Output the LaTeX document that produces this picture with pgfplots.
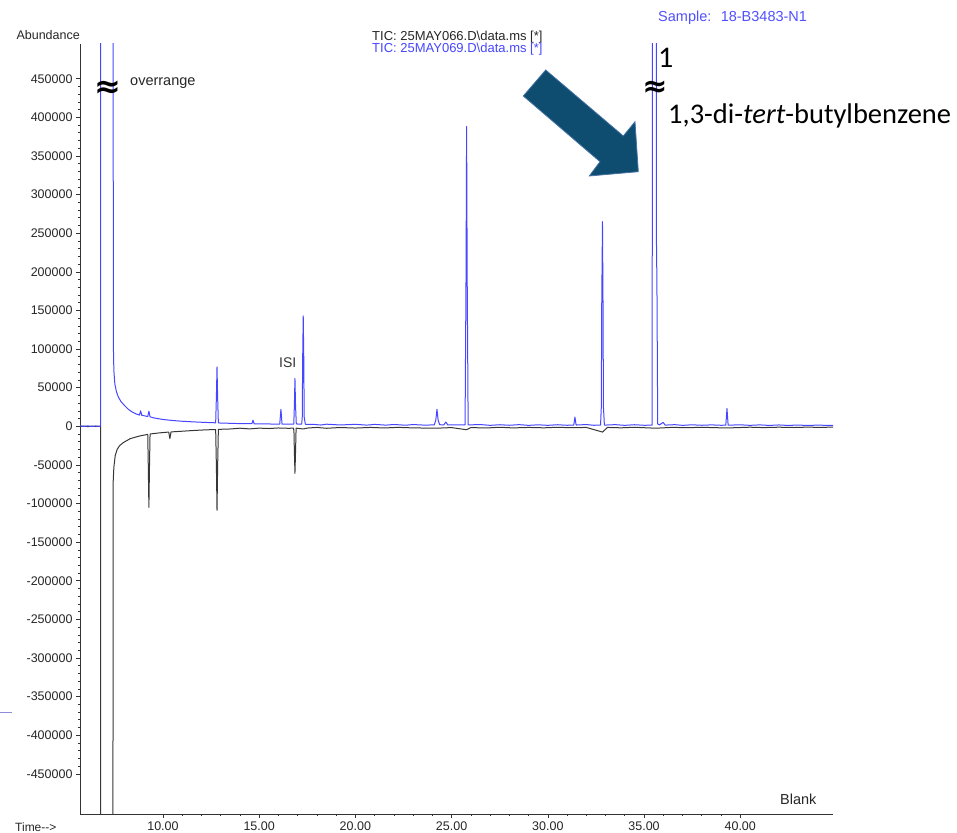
\documentclass[border=0pt]{standalone}
\usepackage{pgfplots}
\pgfplotsset{compat=1.18}
\usepackage{fontspec}
\setmainfont{Liberation Sans}
\newfontfamily\calibri{Carlito}
\newfontfamily\dejavu{DejaVu Sans}
\definecolor{blueTIC}{RGB}{70,70,255}
\definecolor{blackTIC}{RGB}{55,55,55}
\definecolor{arrowfill}{RGB}{14,76,112}
\definecolor{arrowedge}{RGB}{70,115,165}
\definecolor{labelblue}{RGB}{80,80,255}

\begin{document}
\begin{tikzpicture}
\begin{axis}[
  at={(0,0)}, anchor=south west,
  scale only axis, width=753pt, height=770pt,
  xmin=5.69, xmax=44.82, ymin=-502000, ymax=495000,
  axis x line*=bottom, axis y line*=left,
  axis line style={black!80, line width=0.8pt},
  tick align=outside,
  major tick length=4pt, minor tick length=2pt,
  tick style={black!80, line width=0.6pt},
  xtick={10,15,20,25,30,35,40}, minor x tick num=4,
  ytick={-450000,-400000,-350000,-300000,-250000,-200000,-150000,-100000,-50000,0,50000,100000,150000,200000,250000,300000,350000,400000,450000},
  minor y tick num=4,
  scaled ticks=false,
  xticklabel style={/pgf/number format/.cd, fixed, fixed zerofill, precision=2},
  yticklabel style={/pgf/number format/.cd, fixed, 1000 sep={}},
  /pgf/number format/assume math mode=true,
  ticklabel style={font=\fontsize{12.5}{14}\selectfont, text=black!85},
  clip=true,
]
\addplot[blackTIC, line width=1pt, line join=round] coordinates {
(5.70,-400)(5.9,300)(6.1,-500)(6.3,200)(6.5,-300)(6.7,100)(6.76,-300)(6.78,-2000000)(7.38,-2000000)(7.41,-74000)(7.45,-53000)(7.52,-38000)(7.62,-30000)(7.75,-25000)(7.95,-21000)(8.3,-16000)(8.8,-12500)(9.21,-10500)(9.24,-53000)(9.27,-105000)(9.30,-53000)(9.33,-10000)(9.8,-8600)(10.3,-7500)(10.36,-16000)(10.42,-7300)(11.0,-6400)(11.5,-5600)(12.0,-4900)(12.5,-4400)(12.74,-4200)(12.78,-55000)(12.81,-109000)(12.84,-55000)(12.88,-4000)(13.5,-3500)(14.0,-2500)(14.5,-3400)(15.0,-2400)(15.5,-2900)(16.0,-2200)(16.5,-2600)(16.79,-2500)(16.81,-8000)(16.83,-33000)(16.86,-61000)(16.89,-33000)(16.92,-2400)(17.3,-3500)(17.5,-2300)(18.0,-1500)(18.5,-2600)(19.2,-1600)(20,-2300)(20.8,-1500)(21.5,-2200)(22.2,-1400)(23,-2100)(24.2,-2500)(25,-1700)(25.78,-4500)(26,-1700)(26.8,-2200)(27.5,-1300)(28.2,-2100)(29,-1500)(29.8,-2000)(30.5,-1300)(31.2,-1900)(32,-1500)(32.84,-7500)(33.1,-1500)(33.8,-2000)(34.5,-1300)(35.6,-2500)(36.5,-1400)(37.2,-1900)(38,-1300)(38.7,-1800)(39.3,-2200)(40.5,-1200)(41.2,-1700)(42,-1200)(42.8,-1600)(43.5,-1100)(44.2,-1500)(44.82,-1000)
};
\addplot[blueTIC, line width=1pt, line join=round] coordinates {
(5.70,600)(5.9,-200)(6.1,500)(6.3,-300)(6.5,400)(6.7,-100)(6.76,300)(6.78,2000000)(7.40,2000000)(7.42,110000)(7.45,72000)(7.50,55000)(7.58,45000)(7.68,38000)(7.82,32000)(8.0,27000)(8.2,22000)(8.4,18500)(8.6,16000)(8.78,14500)(8.84,20000)(8.90,14200)(9.05,13500)(9.21,12600)(9.27,19500)(9.33,12300)(9.5,11000)(9.8,9600)(10.1,8500)(10.5,7500)(11.0,6500)(11.5,5800)(12.0,5200)(12.5,4700)(12.74,4500)(12.78,40000)(12.81,77000)(12.84,40000)(12.88,4300)(13.3,4000)(13.8,3600)(14.3,3400)(14.62,3300)(14.68,8000)(14.74,3200)(15.2,3100)(15.7,2900)(16.07,2900)(16.13,22000)(16.19,2800)(16.5,2700)(16.80,2900)(16.83,27000)(16.86,62000)(16.89,27000)(16.93,3200)(17.05,2700)(17.21,2800)(17.24,12000)(17.26,85000)(17.29,143000)(17.32,85000)(17.34,12000)(17.40,2600)(17.8,2500)(18.2,1600)(18.5,2700)(19.2,1700)(20.0,2500)(20.6,1500)(21.0,2400)(21.6,1500)(22.0,2300)(22.6,1400)(23.0,2200)(23.6,1500)(24.1,1800)(24.18,8000)(24.24,22000)(24.30,8000)(24.38,2000)(24.6,1900)(24.7,5500)(24.8,1800)(25.2,1700)(25.70,1700)(25.75,193000)(25.78,388000)(25.81,193000)(25.86,1800)(26.5,2200)(27.0,1200)(27.5,2000)(28.0,1300)(28.5,2100)(29.0,1200)(29.5,1900)(30.0,1200)(30.5,2000)(31.0,1300)(31.35,1500)(31.41,12000)(31.47,1600)(32.0,2200)(32.4,1300)(32.74,1500)(32.78,25000)(32.80,153000)(32.84,265000)(32.87,153000)(32.89,25000)(32.94,1500)(33.5,2100)(34.0,1200)(34.5,2000)(35.0,1300)(35.42,1400)(35.48,2000000)(35.62,2000000)(35.64,250000)(35.67,185000)(35.71,3000)(35.8,1800)(35.99,5000)(36.1,1500)(36.6,2100)(37.0,1200)(37.5,1900)(38.0,1300)(38.5,1800)(39.0,1300)(39.25,1400)(39.31,23000)(39.37,1400)(40.0,1900)(40.5,1200)(41.0,1800)(41.5,1100)(42.0,1700)(42.5,1100)(43.0,1600)(43.5,1000)(44.0,1500)(44.82,1000)
};
\end{axis}
\begin{scope}[x=1pt,y=-1pt,xshift=-80pt,yshift=814pt]
  \pgfresetboundingbox
  \path[use as bounding box] (0,0) rectangle (957,832);
  % arrow
  \fill[arrowfill, draw=arrowedge, line width=0.8pt, line join=miter]
    (545.7,70) -- (623.3,136) -- (635,121.7) -- (638.3,171.7) -- (589.3,176) -- (600,161.7) -- (523.3,96) -- cycle;
  % texts
  \node[anchor=base east, inner sep=0, font=\fontsize{12.5}{14}\selectfont, text=black!85] at (80,40) {Abundance};
  \node[anchor=base west, inner sep=0, font=\fontsize{12}{14}\selectfont, text=black!85] at (15,831) {Time-{}-{}>};
  \node[anchor=base west, inner sep=0, font=\fontsize{14.5}{16}\selectfont, text=black!85] at (780,804) {Blank};
  \node[anchor=base west, inner sep=0, font=\fontsize{13}{14}\selectfont, text=black!85] at (372,41) {TIC: 25MAY066.D\textbackslash data.ms [*]};
  \node[anchor=base west, inner sep=0, font=\fontsize{13}{14}\selectfont, text=blueTIC] at (372,53) {TIC: 25MAY069.D\textbackslash data.ms [*]};
  \node[anchor=base west, inner sep=0, font=\fontsize{14.5}{16}\selectfont, text=labelblue] at (658,22) {Sample:~ 18-B3483-N1};
  \node[anchor=base west, inner sep=0, font=\fontsize{14.5}{16}\selectfont, text=black!85] at (130,86) {overrange};
  \node[anchor=base west, inner sep=0, font=\fontsize{14}{16}\selectfont, text=black!80] at (279,368) {ISI};
  \node[inner sep=0, font={\dejavu\fontsize{32}{32}\selectfont\bfseries}] at (108,89) {≈};
  \node[inner sep=0, font={\dejavu\fontsize{30}{30}\selectfont\bfseries}] at (655,89) {≈};
  \node[anchor=base west, inner sep=0, font={\calibri\fontsize{30}{32}\selectfont}] at (658,68) {1};
  \node[anchor=base west, inner sep=0, font={\calibri\fontsize{28.5}{30}\selectfont}] at (668,124) {1,3-di-\textit{tert}-butylbenzene};
  \draw[gray!50!blue!60, line width=0.8pt] (0,712) -- (12,712);
\end{scope}
\end{tikzpicture}
\end{document}
